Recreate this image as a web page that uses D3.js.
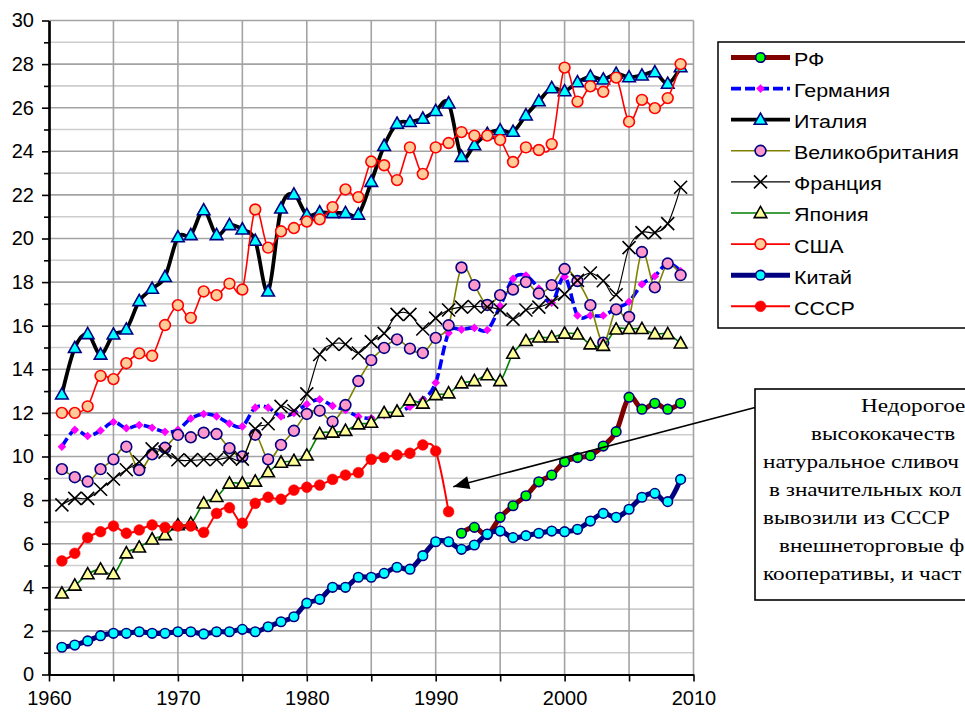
<!DOCTYPE html>
<html><head><meta charset="utf-8">
<script src="https://cdn.jsdelivr.net/npm/d3@7"></script>
<style>html,body{margin:0;padding:0;background:#fff;overflow:hidden;} svg{display:block;overflow:hidden}</style>
</head><body><svg id="c" width="965" height="713"></svg>
<script>
// ---------- DATA ----------
const years = [1961,1962,1963,1964,1965,1966,1967,1968,1969,1970,1971,1972,1973,1974,1975,1976,1977,1978,1979,1980,
  1981,1982,1983,1984,1985,1986,1987,1988,1989,1990,1991,1992,1993,1994,1995,1996,1997,1998,1999,2000,
  2001,2002,2003,2004,2005,2006,2007,2008,2009];
const yearsUSSR = years.slice(0, 31);   // 1961-1991
const yearsRF = years.slice(31);        // 1992-2009

const rf = [6.48,6.75,6.42,7.21,7.74,8.2,8.84,9.15,9.76,9.95,10.04,10.48,11.14,12.72,12.17,12.44,12.17,12.44];
const germany = [10.45,11.22,10.94,11.19,11.58,11.3,11.44,11.32,11.13,11.22,11.74,11.95,11.84,11.51,11.38,12.24,12.24,11.84,12.0,12.4,
  12.62,12.32,12.13,11.83,11.75,11.9,12.0,12.28,12.6,13.38,15.67,15.82,15.9,15.8,16.9,18.15,18.3,17.7,17.05,18.25,
  16.47,16.47,16.47,16.8,17.1,17.9,18.27,18.88,18.5];
const italy = [12.85,14.98,15.62,14.68,15.6,15.83,17.13,17.7,18.24,20.06,20.16,21.3,20.16,20.62,20.42,19.9,17.57,21.38,22.02,21.08,
  21.2,21.17,21.17,21.1,22.6,24.25,25.27,25.35,25.5,25.85,26.2,23.75,24.28,24.8,24.97,24.9,25.65,26.3,26.9,26.76,
  27.17,27.43,27.3,27.56,27.4,27.48,27.63,27.1,27.86];
const uk = [9.42,9.05,8.85,9.42,9.87,10.45,9.38,10.1,10.4,10.99,10.88,11.09,11.03,10.38,10.0,11.0,9.87,10.53,11.18,11.95,
  12.1,11.6,12.36,13.46,14.42,14.98,15.37,14.95,14.75,15.44,16.02,18.67,17.86,16.95,17.4,17.66,18.0,17.48,17.86,18.6,
  18.05,16.94,15.22,16.75,16.4,19.38,17.76,18.85,18.32];
const france = [7.78,8.08,8.08,8.5,8.97,9.39,9.76,10.35,10.2,9.85,9.82,9.86,9.86,9.95,9.88,11.27,11.5,12.3,12.1,12.87,
  14.68,15.15,15.15,14.75,15.27,15.65,16.52,16.52,15.85,16.35,16.72,16.85,16.88,16.86,16.72,16.3,16.72,16.85,17.08,17.45,
  18.08,18.42,18.06,17.42,19.58,20.27,20.27,20.68,22.35];
const japan = [3.72,4.08,4.6,4.82,4.6,5.56,5.83,6.2,6.4,6.85,6.93,7.85,8.15,8.76,8.76,8.85,9.28,9.72,9.8,10.05,
  11.03,11.1,11.18,11.48,11.55,12.0,12.06,12.58,12.43,12.82,12.9,13.36,13.46,13.73,13.46,14.72,15.3,15.46,15.46,15.64,
  15.6,15.15,15.08,15.83,15.85,15.85,15.62,15.62,15.19];
const usa = [12.0,12.0,12.3,13.7,13.55,14.28,14.73,14.62,16.03,16.94,16.36,17.57,17.4,17.93,17.66,21.33,19.58,20.33,20.48,20.78,
  20.88,21.44,22.25,21.9,23.53,23.36,22.68,24.18,22.96,24.18,24.38,24.88,24.72,24.72,24.52,23.51,24.18,24.06,24.33,27.84,
  26.28,26.98,26.73,27.38,25.36,26.36,25.98,26.44,28.0];
const china = [1.25,1.35,1.54,1.78,1.89,1.89,1.96,1.89,1.89,1.96,1.96,1.86,1.96,1.96,2.07,1.96,2.19,2.42,2.65,3.27,
  3.45,4.0,4.0,4.46,4.46,4.64,4.92,4.83,5.45,6.09,6.09,5.74,5.94,6.44,6.58,6.28,6.37,6.48,6.58,6.55,
  6.66,7.04,7.39,7.21,7.58,8.13,8.31,7.93,8.95];
const ussr = [5.21,5.56,6.28,6.55,6.81,6.48,6.63,6.86,6.75,6.81,6.81,6.52,7.39,7.65,6.94,7.85,8.13,8.04,8.46,8.59,
  8.69,8.95,9.15,9.26,9.87,9.96,10.07,10.15,10.53,10.25,7.47];

const seriesNames = ["РФ","Германия","Италия","Великобритания","Франция","Япония","США","Китай","СССР"];
const yTickLabels = [0,2,4,6,8,10,12,14,16,18,20,22,24,26,28,30];
const yMinorTicks = [1,3,5,7,9,11,13,15,17,19,21,23,25,27,29];
const xTicks = [1960,1965,1970,1975,1980,1985,1990,1995,2000,2005,2010];
const xTickLabels = [1960,1970,1980,1990,2000,2010];
// annotation text as far as it is visible in the (right-cropped) box
const noteLines = ["Недорогое","высококачеств","натуральное сливоч","в значительных кол",
  "вывозили из СССР","внешнеторговые ф","кооперативы, и част"];

// ---------- SCALES ----------
const svg = d3.select('#c');
const x = d3.scaleLinear().domain([1960, 2010]).range([49, 693.5]);
const y = d3.scaleLinear().domain([0, 30]).range([674.5, 20.5]);
const SANS = "'Liberation Sans', Arial, sans-serif";
const SERIF = "'Liberation Serif', 'Times New Roman', serif";

// ---------- GRID ----------
const grid = svg.append('g');
grid.selectAll('line.h').data(d3.range(1, 31)).join('line')
  .attr('x1', x(1960)).attr('x2', x(2010))
  .attr('y1', d => y(d)).attr('y2', d => y(d))
  .attr('stroke', d => d % 2 ? '#cdcdcd' : '#a3a3a3').attr('stroke-width', 1.6);
grid.selectAll('line.v').data(xTicks.slice(1)).join('line')
  .attr('x1', d => x(d)).attr('x2', d => x(d))
  .attr('y1', y(0)).attr('y2', y(30))
  .attr('stroke', '#a3a3a3').attr('stroke-width', 1.6);

// ---------- AXES ----------
function styleAxis(g) {
  g.select('.domain').attr('stroke', '#000').attr('stroke-width', 2.2);
  g.selectAll('.tick line').attr('stroke', '#000').attr('stroke-width', 1.6);
  g.selectAll('.tick text').attr('font-family', SANS).attr('font-size', 20).attr('fill', '#000');
}
svg.append('g').attr('transform', `translate(${x(1960)},0)`)
  .call(d3.axisLeft(y).tickValues(yMinorTicks).tickSize(5).tickSizeOuter(0).tickFormat(''))
  .call(styleAxis);
svg.append('g').attr('transform', `translate(${x(1960)},0)`)
  .call(d3.axisLeft(y).tickValues(yTickLabels).tickSize(7).tickPadding(8).tickSizeOuter(0))
  .call(styleAxis);
svg.append('g').attr('transform', `translate(0,${y(0)})`)
  .call(d3.axisBottom(x).tickValues(xTicks).tickSize(7).tickPadding(9).tickSizeOuter(0)
    .tickFormat(d => xTickLabels.includes(d) ? String(d) : ''))
  .call(styleAxis);

// ---------- MARKERS ----------
const mk = {
  circle: (g, r, fill, stroke, sw) => g.append('circle').attr('r', r).attr('fill', fill).attr('stroke', stroke).attr('stroke-width', sw),
  tri: (g, fill, stroke) => g.append('path').attr('d', 'M0,-6.6L6.3,4.6L-6.3,4.6Z').attr('fill', fill).attr('stroke', stroke).attr('stroke-width', 1.6).attr('stroke-linejoin', 'miter'),
  diamond: (g, fill) => g.append('path').attr('d', 'M0,-4.3L4.3,0L0,4.3L-4.3,0Z').attr('fill', fill),
  cross: (g) => g.append('path').attr('d', 'M-6.5,-6.5L6.5,6.5M-6.5,6.5L6.5,-6.5').attr('stroke', '#000').attr('stroke-width', 1.6).attr('fill', 'none')
};

const series = [
  { name: seriesNames[0], xs: yearsRF, vs: rf, color: '#800000', w: 5, marker: g => mk.circle(g, 4.8, '#00ff00', '#000080', 1.6) },
  { name: seriesNames[1], xs: years, vs: germany, color: '#0000ff', w: 3.6, dash: '10,4', marker: g => mk.diamond(g, '#ff00ff') },
  { name: seriesNames[2], xs: years, vs: italy, color: '#000000', w: 3.8, marker: g => mk.tri(g, '#00ffff', '#000080') },
  { name: seriesNames[3], xs: years, vs: uk, color: '#808000', w: 1.6, marker: g => mk.circle(g, 5.4, '#ff99cc', '#000080', 1.6) },
  { name: seriesNames[4], xs: years, vs: france, color: '#000000', w: 1.1, marker: g => mk.cross(g) },
  { name: seriesNames[5], xs: years, vs: japan, color: '#008000', w: 1.6, marker: g => mk.tri(g, '#ffff99', '#000000') },
  { name: seriesNames[6], xs: years, vs: usa, color: '#ff0000', w: 1.6, marker: g => mk.circle(g, 5.4, '#ffcc99', '#ff0000', 1.6) },
  { name: seriesNames[7], xs: years, vs: china, color: '#000080', w: 5, marker: g => mk.circle(g, 4.8, '#00ffff', '#000080', 1.6) },
  { name: seriesNames[8], xs: yearsUSSR, vs: ussr, color: '#ff0000', w: 2, marker: g => mk.circle(g, 5.4, '#ff0000', '#ff0000', 0.5) }
];

const line = d3.line().x(d => x(d[0])).y(d => y(d[1])).curve(d3.curveCatmullRom.alpha(0));
const plot = svg.append('g');
series.forEach(s => {
  const pts = s.xs.map((yr, i) => [yr, s.vs[i]]);
  plot.append('path').datum(pts).attr('d', line).attr('fill', 'none')
    .attr('stroke', s.color).attr('stroke-width', s.w)
    .attr('stroke-dasharray', s.dash || null).attr('stroke-linejoin', 'round');
  pts.forEach(p => {
    const g = plot.append('g').attr('transform', `translate(${x(p[0])},${y(p[1])})`);
    s.marker(g);
  });
});

// ---------- LEGEND ----------
const leg = svg.append('g');
leg.append('rect').attr('x', 718).attr('y', 42).attr('width', 400).attr('height', 286)
  .attr('fill', '#fff').attr('stroke', '#000').attr('stroke-width', 1.5);
const probe = svg.append('text').attr('font-family', SANS).attr('font-size', 18.5).text('Великобритания');
const legK = 165 / probe.node().getComputedTextLength();
probe.remove();
series.forEach((s, i) => {
  const cy = 57.5 + i * 31.1;
  leg.append('line').attr('x1', 731).attr('x2', 790).attr('y1', cy).attr('y2', cy)
    .attr('stroke', s.color).attr('stroke-width', s.w).attr('stroke-dasharray', s.dash || null);
  s.marker(leg.append('g').attr('transform', `translate(760.5,${cy})`));
  leg.append('text').attr('transform', `translate(794,${cy + 2}) scale(${legK},1)`)
    .attr('font-family', SANS).attr('font-size', 18.5).attr('dominant-baseline', 'central')
    .text(s.name);
});

// ---------- ANNOTATION ----------
const tip = [x(1991) + 4.7, y(ussr[30]) - 25];
const from = [755, 407.5];
svg.append('line').attr('x1', from[0]).attr('y1', from[1]).attr('x2', tip[0]).attr('y2', tip[1])
  .attr('stroke', '#000').attr('stroke-width', 1.6);
{
  const ang = Math.atan2(tip[1] - from[1], tip[0] - from[0]);
  const L = 16, W = 6.5;
  const bx = tip[0] - L * Math.cos(ang), by = tip[1] - L * Math.sin(ang);
  const px = -Math.sin(ang) * W, py = Math.cos(ang) * W;
  svg.append('path').attr('d', `M${tip[0]},${tip[1]}L${bx + px},${by + py}L${bx - px},${by - py}Z`).attr('fill', '#000');
}
svg.append('rect').attr('x', 755).attr('y', 389).attr('width', 400).attr('height', 211)
  .attr('fill', '#fff').attr('stroke', '#000').attr('stroke-width', 1.6);
const probe2 = svg.append('text').attr('font-family', SERIF).attr('font-size', 19).text('вывозили из СССР');
const noteK = 187 / probe2.node().getComputedTextLength();
probe2.remove();
const noteStarts = [861, 811, 763, 769, 763, 779, 763];
noteLines.forEach((t, i) => {
  svg.append('text').attr('transform', `translate(${noteStarts[i]},${411.5 + i * 28.05}) scale(${noteK},1)`)
    .attr('font-family', SERIF).attr('font-size', 19).attr('fill', '#000').text(t);
});
</script></body></html>
